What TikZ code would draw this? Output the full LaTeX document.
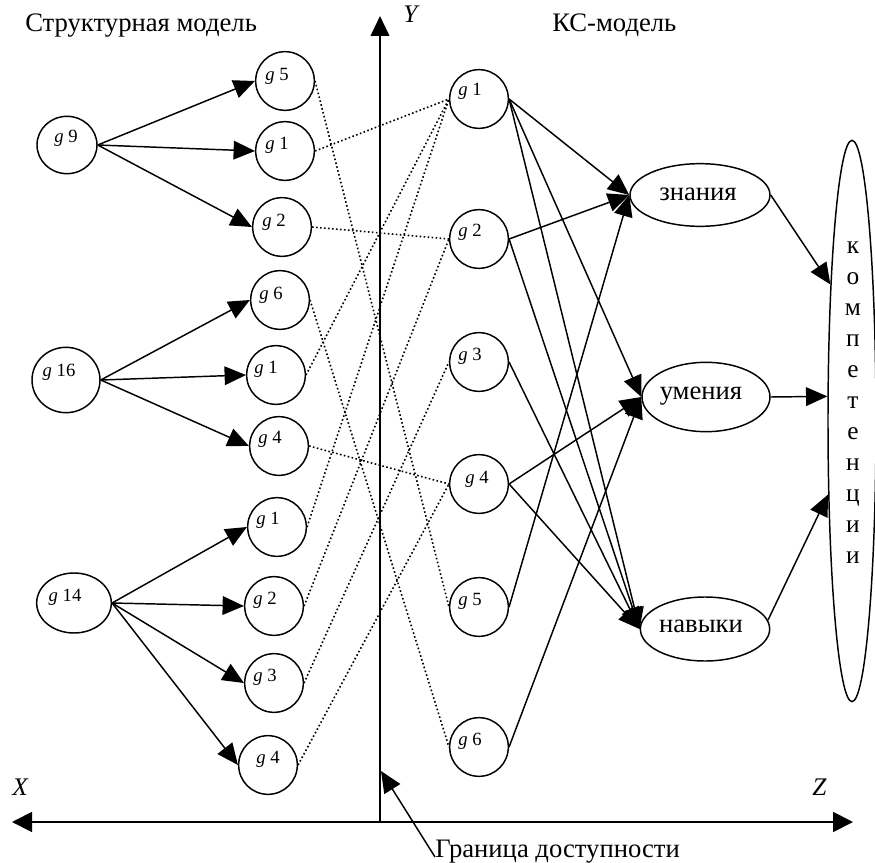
\documentclass[tikz,border=0pt]{standalone}
\usepackage{fontspec}
\setmainfont{Liberation Serif}
\usetikzlibrary{arrows.meta,shapes.geometric}
\tikzset{
gnode/.style={circle, draw, line width=1.1pt, minimum size=44pt, inner sep=0pt}, % small circles
rootnode/.style={ellipse, draw, line width=1.1pt, inner sep=0pt},
glabel/.style={anchor=base, inner sep=0pt, font=\fontsize{14}{16}\selectfont},
title/.style={anchor=base west, inner sep=0pt, font=\fontsize{20}{24}\selectfont},
axlabel/.style={anchor=base west, inner sep=0pt, font=\fontsize{19}{23}\selectfont\itshape},
arr/.style={line width=1.1pt, -{Triangle[length=16pt,width=14pt]}},
link/.style={line width=1.2pt, dash pattern=on 1.2pt off 1.8pt},
axis/.style={line width=1.4pt},
}
\newcommand{\gl}[1]{\textit{g} #1}

\begin{document}
\begin{tikzpicture}[x=0.75pt,y=0.75pt,yscale=-1,xscale=1]
\useasboundingbox (0,0) rectangle (875,863);
%Titles
\node[title] (sm) at (25,32) {Структурная модель};
\node[title] (ks) at (552,32) {КС-модель};
%Axes
\coordinate (origin) at (380,822);
\coordinate (ytip) at (380,16);
\coordinate (xtip) at (12,822);
\coordinate (ztip) at (853,822);
\coordinate (btip) at (381,771);
\draw[axis, -{Triangle[length=15pt,width=14pt]}] (origin) -- (ytip);
\draw[axis, {Triangle[length=15pt,width=15pt]}-{Triangle[length=15pt,width=15pt]}] (xtip) -- (ztip);
\node[axlabel] (xl) at (12,795) {X};
\node[axlabel] (yl) at (403,23) {Y};
\node[axlabel] (zl) at (812,795) {Z};
\node[title] (border) at (435,857) {Граница доступности};
\draw[arr] (border.base west) -- (btip);
%Root circles
\node[rootnode, minimum width=45pt, minimum height=43pt] (g9) at (67,145) {};
\node[rootnode, minimum width=51pt, minimum height=49pt] (g16) at (66,380) {};
\node[rootnode, minimum width=56pt, minimum height=45pt] (g14) at (74,603) {};
\node[glabel] (g9t) at (66,143) {\gl{9}};
\node[glabel] (g16t) at (59,376) {\gl{16}};
\node[glabel] (g14t) at (65,601) {\gl{14}};
%Left circles
\node[gnode] (a5) at (285,81) {};
\node[gnode] (a1) at (285,151) {};
\node[gnode] (a2) at (282,227) {};
\node[gnode] (b6) at (280,300) {};
\node[gnode] (b1) at (276,375) {};
\node[gnode] (b4) at (279,446) {};
\node[gnode] (c1) at (277,527) {};
\node[gnode] (c2) at (274,606) {};
\node[gnode] (c3) at (274,683) {};
\node[gnode] (c4) at (268,765) {};
\node[glabel] (a5t) at (277,81) {\gl{5}};
\node[glabel] (a1t) at (277,150) {\gl{1}};
\node[glabel] (a2t) at (274,227) {\gl{2}};
\node[glabel] (b6t) at (271,299) {\gl{6}};
\node[glabel] (b1t) at (266,373) {\gl{1}};
\node[glabel] (b4t) at (270,443) {\gl{4}};
\node[glabel] (c1t) at (268,524) {\gl{1}};
\node[glabel] (c2t) at (265,604) {\gl{2}};
\node[glabel] (c3t) at (265,681) {\gl{3}};
\node[glabel] (c4t) at (268,763) {\gl{4}};
%Middle circles
\node[gnode] (m1) at (479,99) {};
\node[gnode] (m2) at (479,239) {};
\node[gnode] (m3) at (479,362) {};
\node[gnode] (m4) at (479,484) {};
\node[gnode] (m5) at (479,607) {};
\node[gnode] (m6) at (479,747) {};
\node[glabel] (m1t) at (470,96) {\gl{1}};
\node[glabel] (m2t) at (470,237) {\gl{2}};
\node[glabel] (m3t) at (470,360) {\gl{3}};
\node[glabel] (m4t) at (477,483) {\gl{4}};
\node[glabel] (m5t) at (470,605) {\gl{5}};
\node[glabel] (m6t) at (470,745) {\gl{6}};
%Right ellipses
\node[rootnode, minimum width=105pt, minimum height=47pt] (know) at (700,195) {};
\node[rootnode, minimum width=96pt, minimum height=52pt] (skill) at (706,397) {};
\node[rootnode, minimum width=97pt, minimum height=48pt] (habit) at (705,629) {};
\node[title, anchor=base] (knowt) at (698,200) {знания};
\node[title, anchor=base] (skillt) at (701,399) {умения};
\node[title, anchor=base] (habitt) at (701,632) {навыки};
\node[rootnode, minimum width=36pt, minimum height=421pt] (komp) at (852,421) {};
\node[align=center, inner sep=0pt, font=\fontsize{19}{23.25}\selectfont] (kompt) at (853,403) {к\\о\\м\\п\\е\\т\\е\\н\\ц\\и\\и};
%Straight Lines
\foreach \t in {a5,a1,a2} \draw[arr] (g9.east) -- (\t.west);
\foreach \t in {b6,b1,b4} \draw[arr] (g16.east) -- (\t.west);
\foreach \t in {c1,c2,c3,c4} \draw[arr] (g14.east) -- (\t.west);
%Dotted Lines
\draw[link] (a5.east) -- (m5.west);
\draw[link] (a1.east) -- (m1.west);
\draw[link] (a2.east) -- (m2.west);
\draw[link] (b6.east) -- (m6.west);
\draw[link] (b1.east) -- (m1.west);
\draw[link] (b4.east) -- (m4.west);
\draw[link] (c1.east) -- (m1.west);
\draw[link] (c2.east) -- (m2.west);
\draw[link] (c3.east) -- (m3.west);
\draw[link] (c4.east) -- (m4.west);
%Straight Lines
\draw[arr] (m1.east) -- (know.west);
\draw[arr] (m1.east) -- (skill.west);
\draw[arr] (m1.east) -- (habit.west);
\draw[arr] (m2.east) -- (know.west);
\draw[arr] (m2.east) -- (habit.west);
\draw[arr] (m3.east) -- (habit.west);
\draw[arr] (m4.east) -- (skill.west);
\draw[arr] (m4.east) -- (habit.west);
\draw[arr] (m5.east) -- (know.west);
\draw[arr] (m6.east) -- (skill.west);
\draw[arr] (know.east) -- (komp.99);
\draw[arr] (skill.east) -- (komp.135);
\draw[arr] (habit.8) -- (komp.252);
\end{tikzpicture}
\end{document}
